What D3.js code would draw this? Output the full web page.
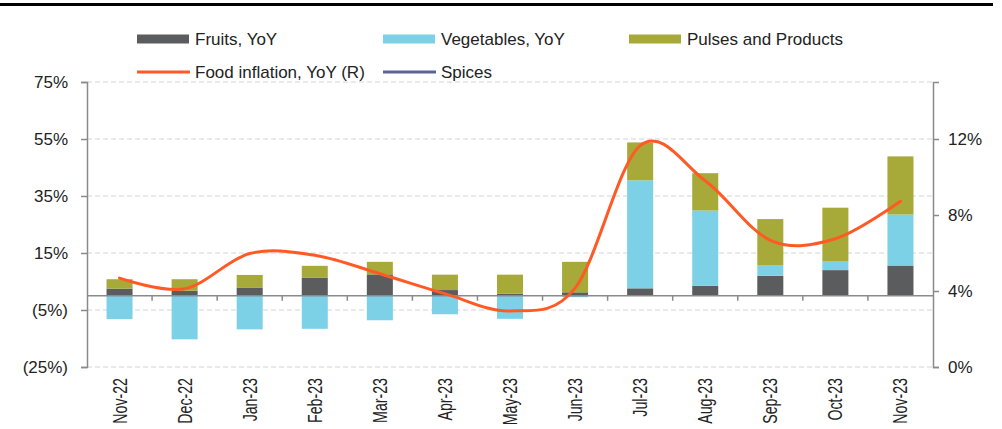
<!DOCTYPE html>
<html>
<head>
<meta charset="utf-8">
<script src="https://cdn.jsdelivr.net/npm/d3@7"></script>
<style>
  body { margin: 0; background: #fff; }
  svg { display: block; font-family: "Liberation Sans", Arial, sans-serif; }
</style>
</head>
<body>
<svg id="chart"></svg>
<script>
const months = ["Nov-22", "Dec-22", "Jan-23", "Feb-23", "Mar-23", "Apr-23", "May-23",
  "Jun-23", "Jul-23", "Aug-23", "Sep-23", "Oct-23", "Nov-23"];
const fruits = [2.5, 1.8, 2.9, 6.4, 7.5, 2.0, 0.7, 1.2, 2.6, 3.5, 7.0, 9.0, 10.6];
const vegetables = [-8.2, -15.3, -11.8, -11.6, -8.6, -6.5, -8.1, -0.5, 37.9, 26.4, 3.6, 3.0, 17.9];
const pulses = [3.3, 4.0, 4.4, 4.1, 4.4, 5.4, 6.7, 10.7, 13.3, 13.1, 16.3, 18.9, 20.4];
const foodInflation = [4.68, 4.12, 5.97, 5.88, 4.91, 3.86, 2.95, 4.15, 11.65, 9.8, 6.67, 6.75, 8.72];
const leftTicks = [-25, -5, 15, 35, 55, 75];
const rightTicks = [0, 4, 8, 12];

const width = 1002, height = 429;
const margin = { top: 82, right: 69, bottom: 62, left: 87 };
const color = { fruits: "#5b5c5e", vegetables: "#7dd1e6", pulses: "#a7aa38",
  food: "#ff5a26", spices: "#5b6399" };
const axisGrey = "#8a8a8a";

const svg = d3.select("#chart").attr("width", width).attr("height", height);

// top rule
svg.append("line")
  .attr("x1", 0).attr("x2", 993).attr("y1", 4.5).attr("y2", 4.5)
  .attr("stroke", "#000").attr("stroke-width", 3);

const x = d3.scaleBand()
  .domain(months)
  .range([margin.left, width - margin.right])
  .paddingInner(0.6)
  .paddingOuter(0.3);
const yL = d3.scaleLinear().domain([-25, 75]).range([height - margin.bottom, margin.top]);
const yR = d3.scaleLinear().domain([0, 15]).range([height - margin.bottom, margin.top]);

// gridlines
svg.append("g")
  .selectAll("line")
  .data(leftTicks)
  .join("line")
  .attr("x1", margin.left).attr("x2", width - margin.right)
  .attr("y1", d => yL(d)).attr("y2", d => yL(d))
  .attr("stroke", "#d4d4d4")
  .attr("stroke-dasharray", "5,3");

// stacked bars
const rows = months.map((m, i) => ({
  month: m, fruits: fruits[i], vegetables: vegetables[i], pulses: pulses[i]
}));
const keys = ["fruits", "vegetables", "pulses"];
const series = d3.stack().keys(keys).offset(d3.stackOffsetDiverging)(rows);

svg.append("g")
  .selectAll("g")
  .data(series)
  .join("g")
  .attr("fill", d => color[d.key])
  .selectAll("rect")
  .data(d => d)
  .join("rect")
  .attr("x", d => x(d.data.month))
  .attr("width", x.bandwidth())
  .attr("y", d => yL(Math.max(d[0], d[1])))
  .attr("height", d => Math.abs(yL(d[0]) - yL(d[1])));

// zero axis with ticks between categories
const zeroY = yL(0);
svg.append("line")
  .attr("x1", margin.left).attr("x2", width - margin.right)
  .attr("y1", zeroY).attr("y2", zeroY)
  .attr("stroke", axisGrey).attr("stroke-width", 1.5);
const gap = (x.step() - x.bandwidth()) / 2;
svg.append("g")
  .selectAll("line")
  .data(months.slice(1))
  .join("line")
  .attr("x1", d => x(d) - gap).attr("x2", d => x(d) - gap)
  .attr("y1", zeroY).attr("y2", zeroY + 5)
  .attr("stroke", axisGrey).attr("stroke-width", 1.5);

// food inflation line
const line = d3.line()
  .x((d, i) => x(months[i]) + x.bandwidth() / 2)
  .y(d => yR(d))
  .curve(d3.curveCatmullRom.alpha(0));
svg.append("path")
  .datum(foodInflation)
  .attr("fill", "none")
  .attr("stroke", color.food)
  .attr("stroke-width", 3)
  .attr("stroke-linecap", "round")
  .attr("d", line);

// left axis
const fmtL = d => d < 0 ? `(${-d}%)` : `${d}%`;
const gL = svg.append("g")
  .attr("transform", `translate(${margin.left},0)`)
  .call(d3.axisLeft(yL).tickValues(leftTicks).tickFormat(fmtL).tickSize(6).tickPadding(13));
gL.select(".domain").attr("stroke", axisGrey).attr("stroke-width", 1.5);
gL.selectAll(".tick line").attr("stroke", axisGrey).attr("stroke-width", 1.5);
gL.selectAll("text").attr("font-size", 17).attr("fill", "#222")
  .attr("font-family", "Liberation Sans, Arial, sans-serif");

// right axis
const gR = svg.append("g")
  .attr("transform", `translate(${width - margin.right},0)`)
  .call(d3.axisRight(yR).tickValues(rightTicks).tickFormat(d => `${d}%`).tickSize(6).tickPadding(9));
gR.select(".domain").attr("stroke", axisGrey).attr("stroke-width", 1.5);
gR.selectAll(".tick line").attr("stroke", axisGrey).attr("stroke-width", 1.5);
gR.selectAll("text").attr("font-size", 17).attr("fill", "#222")
  .attr("font-family", "Liberation Sans, Arial, sans-serif");

// category labels (condensed, rotated)
const gX = svg.append("g")
  .attr("transform", `translate(0,${height - margin.bottom})`)
  .call(d3.axisBottom(x).tickSize(0));
gX.select(".domain").remove();
gX.selectAll("text")
  .attr("transform", "rotate(-90) scale(0.71,1)")
  .attr("text-anchor", "end")
  .attr("x", -11 / 0.71)
  .attr("y", 0)
  .attr("dy", "0.35em")
  .attr("font-size", 20)
  .attr("fill", "#222")
  .attr("font-family", "Liberation Sans, Arial, sans-serif");

// legend
const legendItems = [
  { label: "Fruits, YoY", key: "fruits", type: "bar", x: 137, y: 39 },
  { label: "Vegetables, YoY", key: "vegetables", type: "bar", x: 383, y: 39 },
  { label: "Pulses and Products", key: "pulses", type: "bar", x: 629, y: 39 },
  { label: "Food inflation, YoY (R)", key: "food", type: "line", x: 137, y: 72 },
  { label: "Spices", key: "spices", type: "line", x: 383, y: 72 }
];
const lg = svg.append("g")
  .selectAll("g")
  .data(legendItems)
  .join("g")
  .attr("transform", d => `translate(${d.x},${d.y})`);
lg.filter(d => d.type === "bar").append("rect")
  .attr("x", 0).attr("y", -4.5).attr("width", 52).attr("height", 9)
  .attr("fill", d => color[d.key]);
lg.filter(d => d.type === "line").append("line")
  .attr("x1", 0).attr("x2", 53).attr("y1", 0).attr("y2", 0)
  .attr("stroke", d => color[d.key]).attr("stroke-width", 3);
lg.append("text")
  .attr("x", 58).attr("y", 0).attr("dy", "0.36em")
  .attr("font-size", 17).attr("fill", "#222")
  .text(d => d.label);
</script>
</body>
</html>
